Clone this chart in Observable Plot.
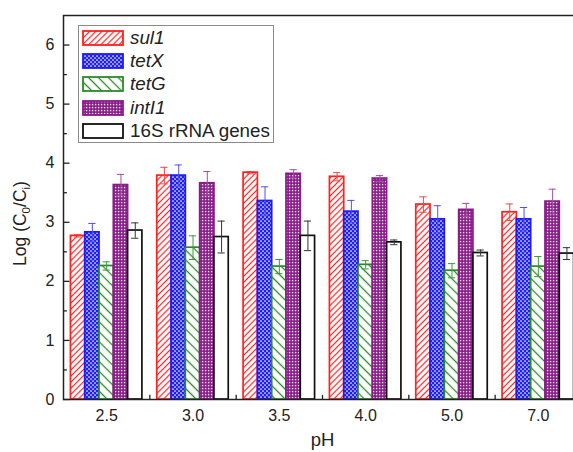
<!DOCTYPE html>
<html><head><meta charset="utf-8">
<script src="https://cdn.jsdelivr.net/npm/d3@7"></script>
<script src="https://cdn.jsdelivr.net/npm/@observablehq/plot@0.6"></script>
<style>
body{margin:0;background:#fff;font-family:"Liberation Sans",Arial,sans-serif;}
#wrap{position:relative;width:573px;height:452px;overflow:hidden;}
#wrap svg.chart{overflow:hidden;display:block}
#legend{position:absolute;left:78px;top:25px;width:196px;height:118px;border:1px solid #8a8a8a;background:#fff;box-sizing:border-box;}
.row{position:absolute;left:3px;width:190px;height:16px;}
.row svg{position:absolute;left:0;top:0}
.row span{position:absolute;left:48px;top:50%;transform:translateY(-50%);font-size:18.8px;color:#222;white-space:nowrap;line-height:1}
.row span.it{font-style:italic}
</style></head>
<body>
<svg width="0" height="0" style="position:absolute">
<defs>
<pattern id="pat0" patternUnits="userSpaceOnUse" width="4.3" height="4.3" patternTransform="rotate(45)">
  <rect width="4.3" height="4.3" fill="#fff"/>
  <line x1="2.15" y1="0" x2="2.15" y2="4.3" stroke="#ff2020" stroke-width="1.2"/>
</pattern>
<pattern id="pat1" patternUnits="userSpaceOnUse" width="4" height="4">
  <rect width="4" height="4" fill="#1f1ff0"/>
  <circle cx="1" cy="1" r="0.85" fill="#fff"/>
  <circle cx="3" cy="3" r="0.85" fill="#fff"/>
</pattern>
<pattern id="pat2" patternUnits="userSpaceOnUse" width="7" height="7" patternTransform="rotate(-45)">
  <rect width="7" height="7" fill="#fff"/>
  <line x1="3.5" y1="0" x2="3.5" y2="7" stroke="#2a8a2a" stroke-width="1.3"/>
</pattern>
<pattern id="pat3" patternUnits="userSpaceOnUse" width="3" height="3">
  <rect width="3" height="3" fill="#8a1a8a"/>
  <rect x="0.9" y="0.9" width="1.4" height="1.4" fill="#f4e8f4"/>
</pattern>
<pattern id="pat4" patternUnits="userSpaceOnUse" width="4" height="4">
  <rect width="4" height="4" fill="#fff"/>
</pattern>
</defs>
</svg>
<div id="wrap"></div>
<script>
// ---- data ----
const pH = ["2.5", "3.0", "3.5", "4.0", "5.0", "7.0"];
const genes = ["sul1", "tetX", "tetG", "intI1", "16S rRNA genes"];
const sul1 = [2.77, 3.79, 3.84, 3.77, 3.30, 3.17];
const sul1Err = [0.02, 0.14, 0.02, 0.07, 0.13, 0.14];
const tetX = [2.83, 3.79, 3.36, 3.18, 3.05, 3.05];
const tetXErr = [0.15, 0.18, 0.24, 0.19, 0.23, 0.20];
const tetG = [2.26, 2.57, 2.25, 2.28, 2.18, 2.25];
const tetGErr = [0.07, 0.20, 0.12, 0.07, 0.12, 0.17];
const intI1 = [3.63, 3.66, 3.82, 3.74, 3.21, 3.35];
const intI1Err = [0.18, 0.20, 0.07, 0.05, 0.11, 0.21];
const rRNA16S = [2.86, 2.75, 2.77, 2.66, 2.48, 2.47];
const rRNA16SErr = [0.13, 0.27, 0.25, 0.04, 0.05, 0.10];
const yTicks = [0, 1, 2, 3, 4, 5, 6];

// ---- styling ----
const strokeColors = ["#ff2020", "#1a1aff", "#2a8a2a", "#8b1a8b", "#111"];
const errColors = ["#f04848", "#5050f0", "#3a9a3a", "#a050a0", "#333"];
const italic = [true, true, true, true, false];

const values = [sul1, tetX, tetG, intI1, rRNA16S];
const errs = [sul1Err, tetXErr, tetGErr, intI1Err, rRNA16SErr];
const rows = [];
pH.forEach((p, gi) => genes.forEach((g, si) => rows.push({ph: p, gene: g, gi, si, value: values[si][gi], err: errs[si][gi]})));

const pad = 0.086, bw = (1 - 2 * pad) / genes.length, cap = 0.042;
const left = d => d.gi + pad + d.si * bw;
const mid = d => left(d) + bw / 2;

const chart = Plot.plot({
  width: 573, height: 452,
  marginLeft: 63, marginRight: -8, marginTop: 15, marginBottom: 53,
  style: {fontFamily: "'Liberation Sans', Arial, sans-serif", color: "#222", background: "transparent"},
  x: {domain: [0, pH.length]},
  y: {domain: [0, 6.5]},
  color: {type: "identity"},
  marks: [
    Plot.rect(rows, {x1: left, x2: d => left(d) + bw, y1: 0, y2: "value",
      fill: d => `url(#pat${d.si})`, stroke: d => strokeColors[d.si], strokeWidth: 1.7}),
    Plot.ruleX(rows, {x: mid, y1: d => d.value - d.err, y2: d => d.value + d.err, stroke: d => errColors[d.si], strokeWidth: 1}),
    Plot.ruleY(rows, {y: d => d.value + d.err, x1: d => mid(d) - cap, x2: d => mid(d) + cap, stroke: d => errColors[d.si], strokeWidth: 1}),
    Plot.ruleY(rows, {y: d => d.value - d.err, x1: d => mid(d) - cap, x2: d => mid(d) + cap, stroke: d => errColors[d.si], strokeWidth: 1}),
    Plot.frame({stroke: "#222", strokeWidth: 1.5}),
    Plot.ruleY(yTicks, {y: d => d, x1: 0, x2: 0.075, stroke: "#222", strokeWidth: 1.3}),
    Plot.ruleY(yTicks.slice(0, -1), {y: d => d + 0.5, x1: 0, x2: 0.045, stroke: "#222", strokeWidth: 1.3}),
    Plot.ruleX(d3.range(1, pH.length), {x: d => d, y1: 0, y2: 0.07, stroke: "#222", strokeWidth: 1.3}),
    Plot.axisY({ticks: yTicks, tickFormat: d => String(d), tickSize: 0, tickPadding: 9, fontSize: 16, label: null}),
    Plot.axisX({ticks: pH.map((p, i) => i + 0.5), tickFormat: d => pH[Math.floor(d)], tickSize: 0, tickPadding: 10, fontSize: 16,
      label: "pH", labelAnchor: "center", labelOffset: 46, labelArrow: "none"}),
    Plot.text(["Log (C0/Ci)"], {text: d => d, frameAnchor: "left", textAnchor: "middle", rotate: -90, dx: -43, dy: 16, fontSize: 17.5, fill: "#222"})
  ]
});
chart.classList.add("chart");
chart.querySelectorAll("text").forEach(t => {
  if (t.textContent === "Log (C0/Ci)") {
    t.innerHTML = 'Log (C<tspan dy="4" font-size="11.5">0</tspan><tspan dy="-4">/C</tspan><tspan dy="4" font-size="11.5">i</tspan><tspan dy="-4">)</tspan>';
  }
  if (t.textContent === "pH") t.setAttribute("font-size", "18.5");
});
const wrap = document.getElementById("wrap");
wrap.appendChild(chart);

// legend
const legend = document.createElement("div");
legend.id = "legend";
genes.forEach((g, i) => {
  const row = document.createElement("div");
  row.className = "row";
  row.style.top = (3.5 + i * 23.4) + "px";
  row.innerHTML = `<svg width="42" height="16"><rect x="1" y="1" width="40" height="14" fill="url(#pat${i})" stroke="${strokeColors[i]}" stroke-width="1.8"/></svg><span class="${italic[i] ? "it" : ""}">${g}</span>`;
  legend.appendChild(row);
});
wrap.appendChild(legend);
</script>
</body></html>
